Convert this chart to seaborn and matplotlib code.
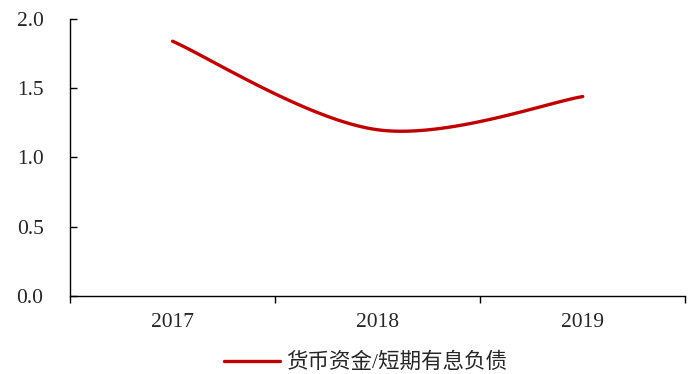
import numpy as np
import pandas as pd
import seaborn as sns
import matplotlib.pyplot as plt

years = ['2017', '2018', '2019']
ratio = [1.84, 1.20, 1.44]
series_name = '货币资金/短期有息负债'
y_ticks = [0.0, 0.5, 1.0, 1.5, 2.0]

sns.set_theme(style='ticks')
plt.rcParams['font.family'] = ['Liberation Serif', 'Noto Sans CJK SC']
plt.rcParams['axes.unicode_minus'] = False


def smooth(xs, ys, n=40):
    # Excel-like smoothed line: cubic bezier through the points
    pts = np.column_stack([xs, ys]).astype(float)
    out = []
    for i in range(len(pts) - 1):
        p0 = pts[i]
        p3 = pts[i + 1]
        prev = pts[max(i - 1, 0)]
        nxt = pts[min(i + 2, len(pts) - 1)]
        c1 = p0 + (p3 - prev) / 6
        c2 = p3 - (nxt - p0) / 6
        t = np.linspace(0, 1, n)[:, None]
        seg = ((1 - t) ** 3) * p0 + 3 * ((1 - t) ** 2) * t * c1 + 3 * (1 - t) * t ** 2 * c2 + t ** 3 * p3
        out.append(seg if i == 0 else seg[1:])
    out = np.vstack(out)
    return out[:, 0], out[:, 1]


xs = np.arange(len(years))
sx, sy = smooth(xs, ratio)
curve = pd.DataFrame({'x': sx, 'y': sy, 'name': series_name})

fig, ax = plt.subplots(figsize=(7, 3.74), dpi=100)
fig.subplots_adjust(left=0.1, right=0.979, top=0.949, bottom=0.209)

sns.lineplot(data=curve, x='x', y='y', hue='name', palette=['#C00000'],
             linewidth=2.4, sort=False, estimator=None, ax=ax)

ax.set_xlim(-0.5, len(years) - 0.5)
ax.set_ylim(0, 2.0)
ax.set_yticks(y_ticks)
ax.set_yticklabels([f'{v:.1f}' for v in y_ticks])
ax.set_xticks(np.arange(-0.5, len(years), 1.0))
ax.set_xticklabels([])
ax.set_xticks(xs, minor=True)
ax.set_xticklabels(years, minor=True)
ax.tick_params(axis='x', which='minor', length=0, pad=12, labelsize=15.5)
ax.tick_params(axis='x', which='major', direction='out', length=5, width=1, color='black')
ax.tick_params(axis='y', direction='in', length=5, width=1, color='black', labelsize=15.5, pad=19)
ax.set_xlabel('')
ax.set_ylabel('')
for s in ['top', 'right']:
    ax.spines[s].set_visible(False)
for s in ['left', 'bottom']:
    ax.spines[s].set_color('black')
    ax.spines[s].set_linewidth(1)

handles, labels = ax.get_legend_handles_labels()
ax.legend(handles, labels, loc='upper center', bbox_to_anchor=(0.48, -0.135),
          frameon=False, fontsize=15.5, handlelength=2.6, handletextpad=0.3)

fig.savefig('out.png', dpi=100)
